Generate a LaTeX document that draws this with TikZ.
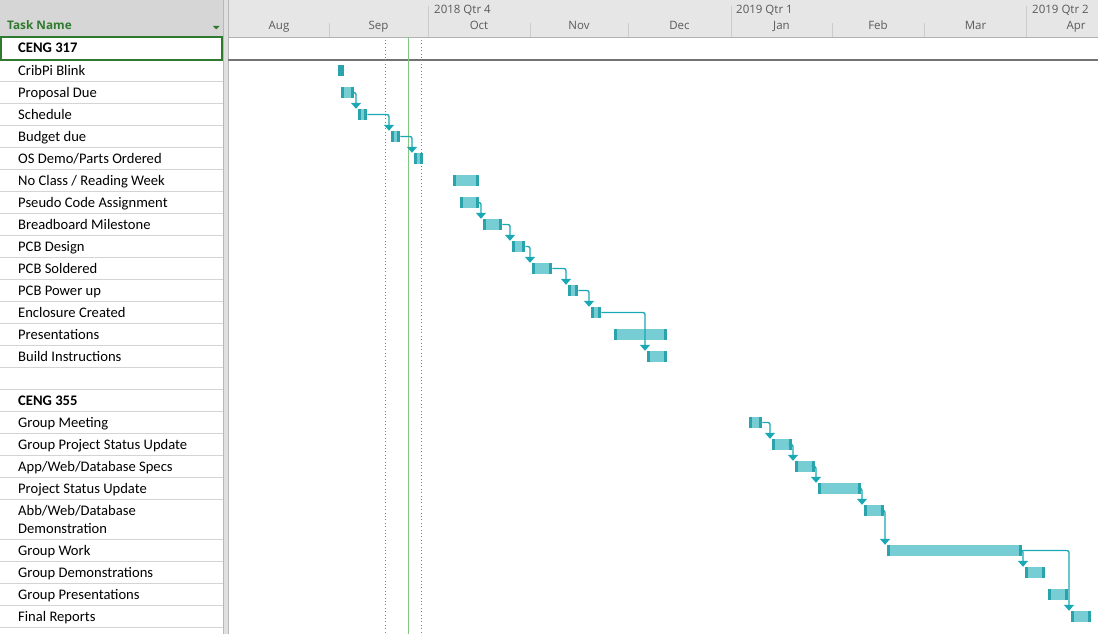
\documentclass[tikz,border=0pt]{standalone}
\usepackage{fontspec}
\setmainfont{Carlito}
\newfontfamily\hdrfont{Open Sans}
\usetikzlibrary{arrows.meta}

\definecolor{barfill}{RGB}{118,205,212}
\definecolor{barend}{RGB}{42,163,171}
\definecolor{linkcol}{RGB}{26,168,180}
\definecolor{selgreen}{RGB}{47,122,47}
\definecolor{todaygreen}{RGB}{128,200,128}
\definecolor{hdrtab}{RGB}{214,214,214}
\definecolor{hdrchart}{RGB}{230,230,230}
\definecolor{hdrtext}{RGB}{90,90,90}
\definecolor{gridgray}{RGB}{212,212,212}

\tikzset{
  task/.style={anchor=base west, inner sep=0, font=\fontsize{14.6}{18}\selectfont},
  group/.style={task, font=\fontsize{14.6}{18}\selectfont\bfseries},
  month/.style={anchor=base, inner sep=0, text=hdrtext, font=\hdrfont\fontsize{11.5}{13}\selectfont},
  quarter/.style={month, anchor=base west},
  tick/.style={draw=black!20, line width=0.8pt},
  taskbar/.style={rectangle, anchor=west, fill=barfill, minimum height=11pt, inner sep=0,
    path picture={
      \fill[barend] (path picture bounding box.south west) rectangle ([xshift=3pt]path picture bounding box.north west);
      \fill[barend] ([xshift=-3pt]path picture bounding box.south east) rectangle (path picture bounding box.north east);
    }},
  link/.style={draw=linkcol, line width=1.3pt, rounded corners=2pt, -{Triangle[width=10pt,length=6pt]}},
  dotline/.style={draw=black!50, line width=1.1pt, dash pattern=on 1pt off 2.4pt},
}

\begin{document}
\begin{tikzpicture}[x=1pt, y=-1pt]
    \useasboundingbox (0,0) rectangle (1098,634);

    % header
    \fill[hdrtab] (0,0) rectangle (223,37);
    \fill[hdrchart] (228,0) rectangle (1098,37);
    \draw[black!30] (228,37) -- (1098,37);
    \node[anchor=base west, inner sep=0, text=selgreen, font=\hdrfont\bfseries\fontsize{11.8}{13}\selectfont] (hdr) at (7,29.5) {Task Name};
    \fill[selgreen] (213,26) -- (219.5,26) -- (216.25,29.5) -- cycle;

    \foreach \x in {428,731,1026}
        \draw[tick] (\x,6) -- (\x,37);
    \foreach \x in {329,530,628,832,924}
        \draw[tick] (\x,23) -- (\x,37);
    \node[quarter] (q4) at (434,14) {2018 Qtr 4};
    \node[quarter] (q1) at (736,14) {2019 Qtr 1};
    \node[quarter] (q2) at (1032,14) {2019 Qtr 2};
    \foreach \m/\x in {Aug/279, Sep/378.5, Oct/479, Nov/579, Dec/679.5, Jan/781.5, Feb/878, Mar/975.5, Apr/1076}
        \node[month] (m-\m) at (\x,30) {\m};

    % table grid
    \foreach \y in {59,81,...,499,539,561,583,605,627}
        \draw[gridgray] (0,\y) -- (223,\y);
    \fill[black!12] (223,0) rectangle (228,634);
    \draw[black!28] (223,0) -- (223,634) (228,0) -- (228,634);
    \draw[selgreen, line width=2pt] (1,37) rectangle (222,60);
    \draw[black!55, line width=1.5pt] (228,60) -- (1098,60);

    % task names
    \node[group] (n317) at (18,53) {CENG 317};
    \node[task] (n1) at (18,75) {CribPi Blink};
    \node[task] (n2) at (18,97) {Proposal Due};
    \node[task] (n3) at (18,119) {Schedule};
    \node[task] (n4) at (18,141) {Budget due};
    \node[task] (n5) at (18,163) {OS Demo/Parts Ordered};
    \node[task] (n6) at (18,185) {No Class / Reading Week};
    \node[task] (n7) at (18,207) {Pseudo Code Assignment};
    \node[task] (n8) at (18,229) {Breadboard Milestone};
    \node[task] (n9) at (18,251) {PCB Design};
    \node[task] (n10) at (18,273) {PCB Soldered};
    \node[task] (n11) at (18,295) {PCB Power up};
    \node[task] (n12) at (18,317) {Enclosure Created};
    \node[task] (n13) at (18,339) {Presentations};
    \node[task] (n14) at (18,361) {Build Instructions};
    \node[group] (n355) at (18,405) {CENG 355};
    \node[task] (n15) at (18,427) {Group Meeting};
    \node[task] (n16) at (18,449) {Group Project Status Update};
    \node[task] (n17) at (18,471) {App/Web/Database Specs};
    \node[task] (n18) at (18,493) {Project Status Update};
    \node[task] (n19a) at (18,515) {Abb/Web/Database};
    \node[task] (n19b) at (18,533) {Demonstration};
    \node[task] (n20) at (18,555) {Group Work};
    \node[task] (n21) at (18,577) {Group Demonstrations};
    \node[task] (n22) at (18,599) {Group Presentations};
    \node[task] (n23) at (18,621) {Final Reports};

    % status lines
    \draw[dotline] (385.5,40) -- (385.5,634);
    \draw[dotline] (421.5,40) -- (421.5,634);
    \draw[todaygreen, line width=1.2pt] (408.5,37) -- (408.5,634);

    % bars
    \node[taskbar, minimum width=6pt] (cb) at (338,70.5) {};
    \node[taskbar, minimum width=13pt] (pd) at (341,92.5) {};
    \node[taskbar, minimum width=9pt] (sc) at (358,114.5) {};
    \node[taskbar, minimum width=9pt] (bd) at (391,136.5) {};
    \node[taskbar, minimum width=9pt] (os) at (414,158.5) {};
    \node[taskbar, minimum width=26pt] (nc) at (453,180.5) {};
    \node[taskbar, minimum width=19pt] (ps) at (460,202.5) {};
    \node[taskbar, minimum width=19pt] (bb) at (483,224.5) {};
    \node[taskbar, minimum width=13pt] (pcb) at (512,246.5) {};
    \node[taskbar, minimum width=20pt] (sol) at (532,268.5) {};
    \node[taskbar, minimum width=10pt] (pw) at (568,290.5) {};
    \node[taskbar, minimum width=10pt] (enc) at (591,312.5) {};
    \node[taskbar, minimum width=53pt] (pre) at (614,334.5) {};
    \node[taskbar, minimum width=20pt] (bi) at (647,356.5) {};
    \node[taskbar, minimum width=13pt] (gm) at (749,422.5) {};
    \node[taskbar, minimum width=20pt] (gs) at (772,444.5) {};
    \node[taskbar, minimum width=20pt] (app) at (795,466.5) {};
    \node[taskbar, minimum width=43pt] (psu) at (818,488.5) {};
    \node[taskbar, minimum width=20pt] (abb) at (864,510.5) {};
    \node[taskbar, minimum width=135pt] (gw) at (887,550.5) {};
    \node[taskbar, minimum width=20pt] (gd) at (1025,572.5) {};
    \node[taskbar, minimum width=20pt] (gp) at (1048,594.5) {};
    \node[taskbar, minimum width=20pt] (fr) at (1071,616.5) {};

    % links
    \draw[link] (pd.east) -| ([xshift=-2pt]sc.north west);
    \draw[link] (sc.east) -| ([xshift=-2pt]bd.north west);
    \draw[link] (bd.east) -| ([xshift=-2pt]os.north west);
    \draw[link] (ps.east) -| ([xshift=-2pt]bb.north west);
    \draw[link] (bb.east) -| ([xshift=-2pt]pcb.north west);
    \draw[link] (pcb.east) -| ([xshift=-2pt]sol.north west);
    \draw[link] (sol.east) -| ([xshift=-2pt]pw.north west);
    \draw[link] (pw.east) -| ([xshift=-2pt]enc.north west);
    \draw[link] (enc.east) -| ([xshift=-2pt]bi.north west);
    \draw[link] (gm.east) -| ([xshift=-2pt]gs.north west);
    \draw[link] (gs.east) -| ([xshift=-2pt]app.north west);
    \draw[link] (app.east) -| ([xshift=-2pt]psu.north west);
    \draw[link] (psu.east) -| ([xshift=-2pt]abb.north west);
    \draw[link] (abb.east) -| ([xshift=-2pt]gw.north west);
    \draw[link] (gw.east) -| ([xshift=-2pt]gd.north west);
    \draw[link] (gw.east) -| ([xshift=-2pt]fr.north west);
\end{tikzpicture}
\end{document}
